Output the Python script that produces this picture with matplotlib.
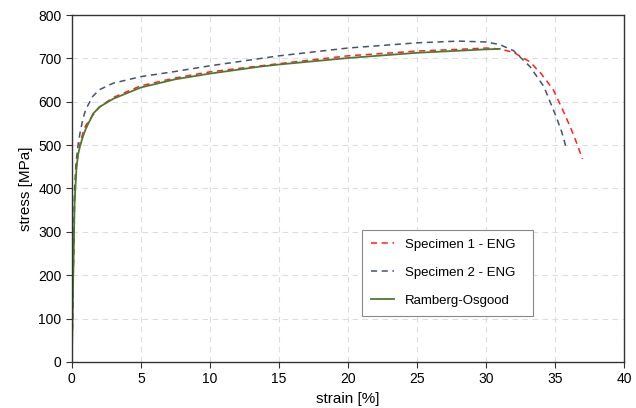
import matplotlib.pyplot as plt

plt.rcParams['font.family'] = ['Liberation Sans', 'DejaVu Sans']

# Specimen 1 - ENG (strain %, stress MPa)
s1_strain = [0, 0.1, 0.2, 0.3, 0.45, 0.6, 0.8, 1.0, 1.5, 2.0, 3.0, 5.0, 7.5, 10, 15, 20, 25,
             28, 30, 31, 32, 33.2, 34, 34.9, 35.8, 36.4, 37.0]
s1_stress = [0, 200, 380, 440, 480, 505, 528, 545, 568, 588, 610, 637, 655, 669, 688, 706, 717,
             721, 724, 722, 714, 692, 665, 627, 565, 520, 468]

# Specimen 2 - ENG
s2_strain = [0, 0.1, 0.2, 0.3, 0.45, 0.6, 0.8, 1.0, 1.5, 2.0, 3.0, 5.0, 7.5, 10, 15, 20, 25,
             28, 30, 31, 32, 33.2, 34.2, 35.1, 35.5, 35.8]
s2_stress = [0, 210, 400, 460, 500, 530, 560, 582, 612, 628, 643, 658, 670, 683, 706, 724, 736,
             740, 738, 732, 718, 681, 635, 565, 530, 496]

# Ramberg-Osgood
ro_strain = [0, 0.1, 0.2, 0.34, 0.45, 0.58, 0.8, 1.0, 1.55, 2.0, 3.0, 5.0, 7.5, 10, 13.6, 15,
             20, 25, 30, 31]
ro_stress = [0, 200, 370, 450, 478, 496, 520, 537, 573, 588, 607, 633, 652, 665, 681, 686,
             701, 713, 721, 722]

fig = plt.figure(figsize=(6.36, 4.08), dpi=100)
ax = fig.add_axes([0.113, 0.113, 0.868, 0.85])

ax.plot(s1_strain, s1_stress, color='#FF2020', ls=(0, (4, 3)), lw=1.1, label='Specimen 1 - ENG')
ax.plot(s2_strain, s2_stress, color='#44546A', ls=(0, (4, 3)), lw=1.1, label='Specimen 2 - ENG')
ax.plot(ro_strain, ro_stress, color='#4F7A2E', lw=1.3, label='Ramberg-Osgood')

ax.set_xlim(0, 40)
ax.set_ylim(0, 800)
ax.set_xticks(range(0, 41, 5))
ax.set_yticks(range(0, 801, 100))
ax.grid(True, color='#DDDDDD', ls=(0, (5, 4)), lw=0.8)
ax.set_axisbelow(True)
for sp in ax.spines.values():
    sp.set_color('#333333')
    sp.set_linewidth(1.0)
ax.tick_params(labelsize=10, color='#333333', length=4, direction='out')

ax.set_xlabel('strain [%]', fontsize=11)
ax.set_ylabel('stress [MPa]', fontsize=11)

leg = ax.legend(loc='lower left', bbox_to_anchor=(0.525, 0.133, 0.31, 0.245), mode='expand',
                borderaxespad=0, fontsize=9.5, fancybox=False, edgecolor='#888888',
                handlelength=1.8, handletextpad=0.8, labelspacing=1.2, borderpad=0.67,
                framealpha=1)
leg.get_frame().set_linewidth(0.8)

fig.savefig('out.png', dpi=100)
